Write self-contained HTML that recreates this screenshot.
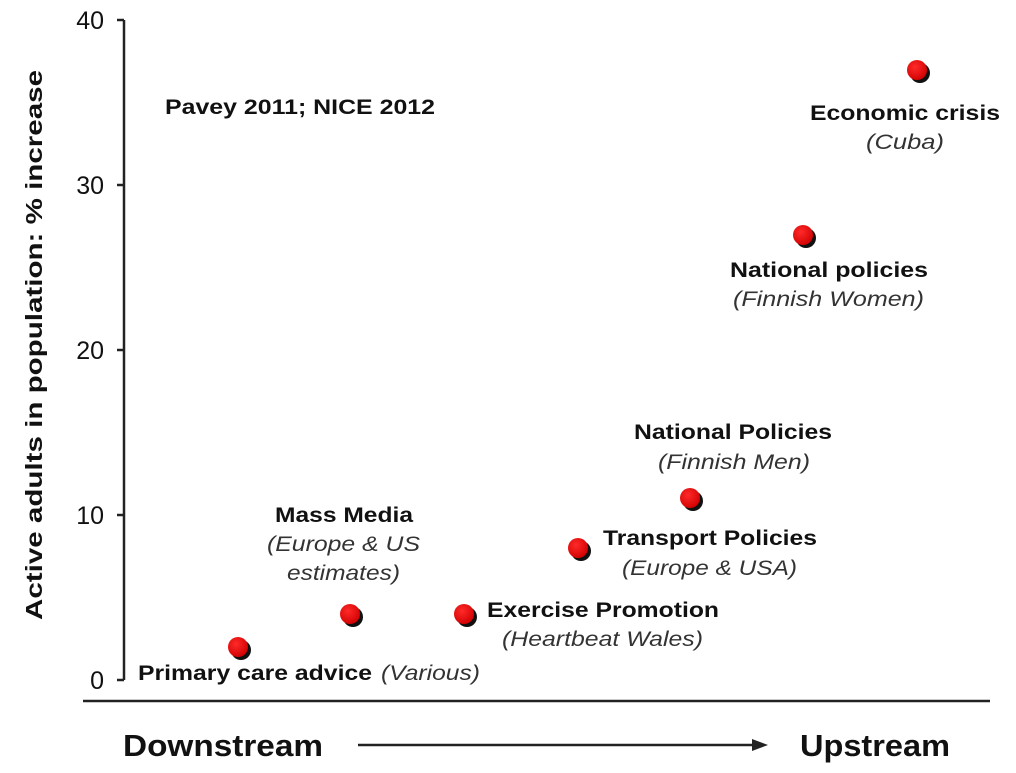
<!DOCTYPE html>
<html><head><meta charset="utf-8"><style>
html,body{margin:0;padding:0;background:#fff;}
svg text{font-family:"Liberation Sans",Arial,sans-serif;fill:#111;}
.b{font-weight:bold;font-size:21px;}
.i{font-style:italic;font-size:21px;fill:#333;}
.t{font-size:25px;}
</style></head><body>
<svg width="1016" height="768" viewBox="0 0 1016 768" xmlns="http://www.w3.org/2000/svg">
<defs><radialGradient id="g" cx="0.4" cy="0.35" r="0.7"><stop offset="0" stop-color="#ff2a2a"/><stop offset="1" stop-color="#d00000"/></radialGradient></defs>
<g stroke="#222" stroke-width="2.5" fill="none">
<line x1="124" y1="20" x2="124" y2="680"/>
<line x1="117" y1="20" x2="124" y2="20"/>
<line x1="117" y1="185" x2="124" y2="185"/>
<line x1="117" y1="350" x2="124" y2="350"/>
<line x1="117" y1="515" x2="124" y2="515"/>
<line x1="117" y1="680" x2="124" y2="680"/>
<line x1="83" y1="701" x2="990" y2="701"/>
<line x1="358" y1="745" x2="755" y2="745"/>
</g>
<polygon points="768,745 752,739 752,751" fill="#222"/>
<g class="t" text-anchor="end">
<text x="104" y="29">40</text><text x="104" y="194">30</text><text x="104" y="359">20</text><text x="104" y="524">10</text><text x="104" y="689">0</text>
</g>
<text class="b" transform="translate(42,345) rotate(-90)" text-anchor="middle" style="font-size:23px" textLength="550" lengthAdjust="spacingAndGlyphs">Active adults in population: % increase</text>
<text x="123" y="756" style="font-weight:bold;font-size:31px" textLength="200" lengthAdjust="spacingAndGlyphs">Downstream</text>
<text x="800" y="756" style="font-weight:bold;font-size:31px" textLength="150" lengthAdjust="spacingAndGlyphs">Upstream</text>
<text class="b" x="165" y="114" textLength="270" lengthAdjust="spacingAndGlyphs">Pavey 2011; NICE 2012</text>
<g>
<circle cx="241" cy="650" r="10" fill="#111"/><circle cx="238" cy="647" r="10" fill="url(#g)"/>
<circle cx="353" cy="617" r="10" fill="#111"/><circle cx="350" cy="614" r="10" fill="url(#g)"/>
<circle cx="467" cy="617" r="10" fill="#111"/><circle cx="464" cy="614" r="10" fill="url(#g)"/>
<circle cx="581" cy="551" r="10" fill="#111"/><circle cx="578" cy="548" r="10" fill="url(#g)"/>
<circle cx="693" cy="501" r="10" fill="#111"/><circle cx="690" cy="498" r="10" fill="url(#g)"/>
<circle cx="806" cy="238" r="10" fill="#111"/><circle cx="803" cy="235" r="10" fill="url(#g)"/>
<circle cx="920" cy="73" r="10" fill="#111"/><circle cx="917" cy="70" r="10" fill="url(#g)"/>
</g>
<text class="b" x="138" y="680" textLength="234" lengthAdjust="spacingAndGlyphs">Primary care advice</text>
<text class="i" x="381" y="680" textLength="99" lengthAdjust="spacingAndGlyphs">(Various)</text>
<text class="b" x="275" y="522" textLength="138" lengthAdjust="spacingAndGlyphs">Mass Media</text>
<text class="i" x="267" y="551" textLength="153" lengthAdjust="spacingAndGlyphs">(Europe &amp; US</text>
<text class="i" x="287" y="580" textLength="113" lengthAdjust="spacingAndGlyphs">estimates)</text>
<text class="b" x="487" y="617" textLength="232" lengthAdjust="spacingAndGlyphs">Exercise Promotion</text>
<text class="i" x="502" y="646" textLength="201" lengthAdjust="spacingAndGlyphs">(Heartbeat Wales)</text>
<text class="b" x="603" y="545" textLength="214" lengthAdjust="spacingAndGlyphs">Transport Policies</text>
<text class="i" x="622" y="575" textLength="175" lengthAdjust="spacingAndGlyphs">(Europe &amp; USA)</text>
<text class="b" x="634" y="439" textLength="198" lengthAdjust="spacingAndGlyphs">National Policies</text>
<text class="i" x="658" y="469" textLength="152" lengthAdjust="spacingAndGlyphs">(Finnish Men)</text>
<text class="b" x="730" y="277" textLength="198" lengthAdjust="spacingAndGlyphs">National policies</text>
<text class="i" x="733" y="306" textLength="191" lengthAdjust="spacingAndGlyphs">(Finnish Women)</text>
<text class="b" x="810" y="120" textLength="190" lengthAdjust="spacingAndGlyphs">Economic crisis</text>
<text class="i" x="866" y="149" textLength="78" lengthAdjust="spacingAndGlyphs">(Cuba)</text>
</svg>
</body></html>
